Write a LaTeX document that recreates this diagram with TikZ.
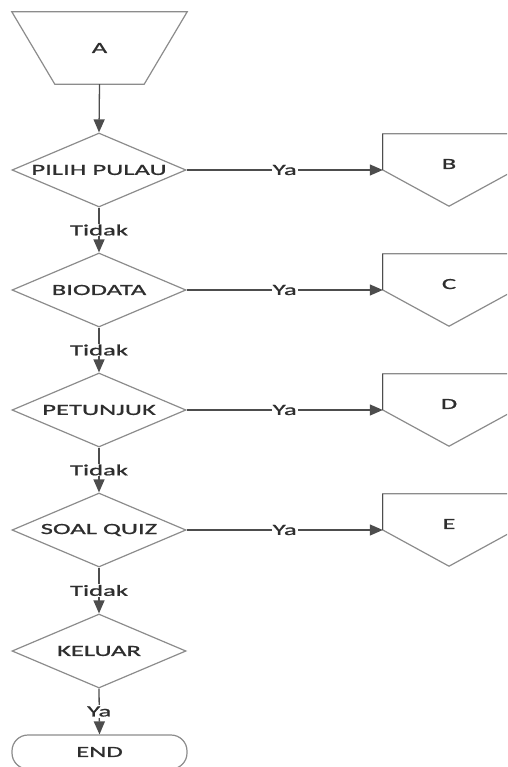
\documentclass[tikz,border=0pt]{standalone}
\usepackage{fontspec}
\newfontfamily\lab{Carlito}[FakeStretch=1.72,FakeBold=1]
\usetikzlibrary{shapes.geometric,arrows.meta}
\definecolor{edgec}{HTML}{8C8C8C}
\definecolor{conn}{HTML}{4D4D4D}
\definecolor{txt}{HTML}{2E2E2E}
\begin{document}
\begin{tikzpicture}[x=1pt,y=-1pt,
 every node/.style={font=\lab\fontsize{15.5}{18}\selectfont, text=txt},
 decision/.style={diamond, draw=edgec, line width=1.2pt, shape aspect=2.35, minimum width=174pt, minimum height=74pt, inner sep=0pt},
 plate/.style={minimum width=132pt, minimum height=72pt, inner sep=0pt, text depth=12pt},
 outline/.style={draw=edgec, line width=1.2pt},
 flow/.style={draw=conn, line width=1.3pt, -{Triangle[length=13pt,width=11pt]}},
 lbl/.style={fill=white, inner sep=1pt}]
\useasboundingbox (0,0) rectangle (507,767);
\clip (0,0) rectangle (507,767);
\fill[white] (0,0) rectangle (507,767);

% start trapezoid
\node[minimum width=175pt, minimum height=72pt, inner sep=0pt] (a) at (99.5,48) {A};
\draw[outline] (a.north west) -- (a.north east) -- ([xshift=-43pt]a.south east) -- ([xshift=43pt]a.south west) -- cycle;

% decisions
\node[decision] (d1) at (99,170) {PILIH PULAU};
\node[decision] (d2) at (99,290) {BIODATA};
\node[decision] (d3) at (99,410) {PETUNJUK};
\node[decision] (d4) at (99,530) {SOAL QUIZ};
\node[decision] (d5) at (99,651) {KELUAR};

% off-page connectors
\node[plate] (b) at (449,170) {B};
\node[plate] (c) at (449,290) {C};
\node[plate] (dd) at (449,410) {D};
\node[plate] (e) at (449,530) {E};
\foreach \p in {b,c,dd,e}{
  \draw[outline] (\p.north west) -- (\p.north east) -- (\p.east) -- (\p.south) -- (\p.west) -- cycle;
  \draw[draw=conn, line width=1.3pt] (\p.north west) -- (\p.west);
}

% terminator
\node[outline, rounded corners=16pt, minimum width=175pt, minimum height=34pt, inner sep=0pt] (end) at (99.5,752) {END};

% connectors
\draw[flow] (a.south) -- (d1.north);
\draw[flow] (d1.east) -- node[lbl]{Ya} (b.west);
\draw[flow] (d2.east) -- node[lbl]{Ya} (c.west);
\draw[flow] (d3.east) -- node[lbl]{Ya} (dd.west);
\draw[flow] (d4.east) -- node[lbl]{Ya} (e.west);
\draw[flow] (d1.south) -- node[lbl]{Tidak} (d2.north);
\draw[flow] (d2.south) -- node[lbl]{Tidak} (d3.north);
\draw[flow] (d3.south) -- node[lbl]{Tidak} (d4.north);
\draw[flow] (d4.south) -- node[lbl]{Tidak} (d5.north);
\draw[flow] (d5.south) -- node[lbl]{Ya} (end.north);
\end{tikzpicture}
\end{document}
